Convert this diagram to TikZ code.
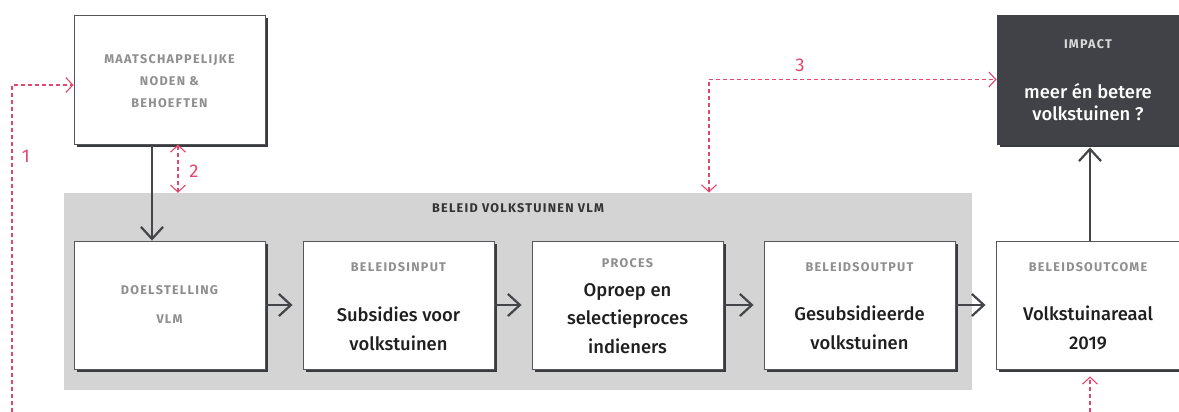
\documentclass[tikz,border=0pt]{standalone}
\usepackage{fontspec}
\setmainfont{Fira Sans}
\newfontfamily\labfont{Fira Sans}[LetterSpace=10]
\newfontfamily\txtfont{Fira Sans}[UprightFont=* Medium]
\usetikzlibrary{arrows.meta,shadows}
\definecolor{shad}{HTML}{3A3B3F}
\definecolor{boxline}{HTML}{55565A}
\definecolor{bggray}{HTML}{D4D4D4}
\definecolor{labgray}{HTML}{8F8F8F}
\definecolor{redc}{HTML}{E2466E}
\definecolor{darkc}{HTML}{414247}
\definecolor{arrc}{HTML}{444549}
\tikzset{
  box/.style={draw=boxline, line width=0.9pt, fill=white, minimum width=191pt, minimum height=129pt, inner sep=0pt,
    drop shadow={shadow xshift=3pt, shadow yshift=-3pt, fill=shad, opacity=1}},
  lab/.style={font=\labfont\bfseries\fontsize{12.6}{14}\selectfont, text=labgray, anchor=base, inner sep=0pt},
  txt/.style={font=\txtfont\fontsize{18.4}{29}\selectfont, text=black!88, anchor=base, inner sep=0pt},
  darr/.style={draw=arrc, line width=2.2pt, -{Straight Barb[length=12pt,width=22pt,line width=2.2pt]}},
  rarr/.style={draw=redc, line width=1.1pt, dash pattern=on 4pt off 3pt, {Straight Barb[length=7pt,width=15pt,line width=1.1pt]}-{Straight Barb[length=7pt,width=15pt,line width=1.1pt]}},
  rarrone/.style={draw=redc, line width=1.1pt, dash pattern=on 4pt off 3pt, -{Straight Barb[length=7pt,width=15pt,line width=1.1pt]}},
  num/.style={text=redc, font=\fontsize{18.5}{20}\selectfont, inner sep=0pt, anchor=base}
}
\begin{document}
\begin{tikzpicture}[x=1pt,y=-1pt]
\useasboundingbox (0,0) rectangle (1179,412);
% background group
\node[fill=bggray, minimum width=908pt, minimum height=197pt, inner sep=0pt] (beleid) at (518,291.5) {};
\node[anchor=base, inner sep=0pt, text=black!80, font=\labfont\bfseries\fontsize{12.6}{14}\selectfont] (btitle) at (518,212.7) {BELEID VOLKSTUINEN VLM};
% boxes
\node[box] (maat) at (169.5,79.5) {};
\node[box, minimum height=128pt] (doel) at (169.5,305) {};
\node[box, minimum height=128pt] (input) at (398.5,305) {};
\node[box, minimum height=128pt] (proces) at (627.5,305) {};
\node[box, minimum height=128pt] (output) at (859.5,305) {};
\node[box, minimum height=128pt] (outcome) at (1091.5,305) {};
\node[box, fill=darkc, draw=darkc] (impact) at (1092.5,79.5) {};
% texts
\node[lab] (t1) at (169.5,63.3) {MAATSCHAPPELIJKE};
\node[lab] (t2) at (169.5,85.3) {NODEN \&};
\node[lab] (t3) at (169.5,107.3) {BEHOEFTEN};
\node[lab] (t4) at (169.5,294) {DOELSTELLING};
\node[lab] (t5) at (169.5,323) {VLM};
\node[lab] (t6) at (398.5,271.7) {BELEIDSINPUT};
\node[txt] (t7) at (398.5,321.7) {Subsidies voor};
\node[txt] (t8) at (398.5,350.7) {volkstuinen};
\node[lab] (t9) at (627.5,267.3) {PROCES};
\node[txt] (t10) at (627.5,296) {Oproep en};
\node[txt] (t11) at (627.5,324.6) {selectieproces};
\node[txt] (t12) at (627.5,353.3) {indieners};
\node[lab] (t13) at (859.5,271.3) {BELEIDSOUTPUT};
\node[txt] (t14) at (859.5,320.7) {Gesubsidieerde};
\node[txt] (t15) at (859.5,349.5) {volkstuinen};
\node[lab] (t16) at (1088,271.3) {BELEIDSOUTCOME};
\node[txt] (t17) at (1088,320.7) {Volkstuinareaal};
\node[txt] (t18) at (1088,349.5) {2019};
\node[lab, text=black!15] (t19) at (1088,49) {IMPACT};
\node[txt, text=white] (t20) at (1088,98.3) {meer én betere};
\node[txt, text=white] (t21) at (1088,121) {volkstuinen ?};
% dark connectors
\draw[darr] ([xshift=-17.5pt]maat.south) -- ([xshift=-17.5pt]doel.north);
\draw[darr, shorten >=10pt] ([xshift=1pt]doel.east) -- (input.west);
\draw[darr, shorten >=10pt] ([xshift=1pt]input.east) -- (proces.west);
\draw[darr, shorten >=10pt] ([xshift=1pt]proces.east) -- (output.west);
\draw[darr, shorten >=10pt] ([xshift=1pt]output.east) -- (outcome.west);
\draw[darr] ([xshift=-1.5pt]outcome.north) -- ([xshift=-2.5pt,yshift=-3pt]impact.south);
% red connectors
\coordinate (c1) at (12,412);
\coordinate (c3) at (709,192.5);
\coordinate (c4) at (1090,412);
\draw[rarrone] (c1) |- ([yshift=-5.5pt]maat.west);
\draw[rarr] ([xshift=8.5pt]maat.south) -- ([xshift=8.5pt]maat.south |- beleid.north);
\draw[rarr] (c3) |- (impact.west);
\draw[rarrone] (c4) -- ([xshift=-1.5pt,yshift=-7pt]outcome.south);
\node[num] (n1) at (26,162) {1};
\node[num] (n2) at (194,177) {2};
\node[num] (n3) at (800,72) {3};
\end{tikzpicture}
\end{document}
